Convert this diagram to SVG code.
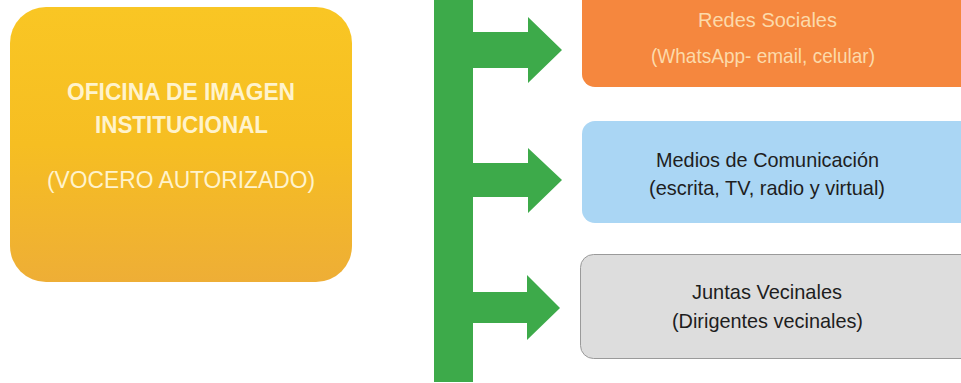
<svg xmlns="http://www.w3.org/2000/svg" width="961" height="383" viewBox="0 0 961 383">
<defs>
<linearGradient id="gy" x1="0" y1="0" x2="0" y2="1">
<stop offset="0" stop-color="#F9C624"/>
<stop offset="0.5" stop-color="#F6BE22"/>
<stop offset="1" stop-color="#EEAE36"/>
</linearGradient>
<style>
.t{font-family:"Liberation Sans",Arial,sans-serif;text-anchor:middle}
.r{font-size:21px}
.y{font-size:24px;fill:#FFF3CC}
.arrow{fill:#3DAA4A}
</style>
</defs>
<rect width="961" height="383" fill="#FFFFFF"/>
<g id="oficina">
<rect x="10" y="7" width="342" height="275" rx="36" ry="36" fill="url(#gy)"/>
<text class="t y" x="181" y="100" font-weight="bold" textLength="228" lengthAdjust="spacingAndGlyphs">OFICINA DE IMAGEN</text>
<text class="t y" x="181.5" y="133" font-weight="bold" textLength="173" lengthAdjust="spacingAndGlyphs">INSTITUCIONAL</text>
<text class="t y" x="181" y="188" textLength="268" lengthAdjust="spacingAndGlyphs">(VOCERO AUTORIZADO)</text>
</g>
<g id="connectors">
<rect class="arrow" x="434" y="0" width="39" height="382"/>
<polygon class="arrow" points="472,32 528,32 528,17 562,50 528,83 528,68 472,68"/>
<polygon class="arrow" points="472,163 528,163 528,148 562,180 528,213 528,197 472,197"/>
<polygon class="arrow" points="472,292 527,292 527,275 560,308 527,340 527,323 472,323"/>
</g>
<g id="redes">
<rect x="582" y="-20" width="395" height="107" rx="13" ry="13" fill="#F5873E"/>
<text class="t r" x="767.5" y="27" fill="#FCDAAA" textLength="139" lengthAdjust="spacingAndGlyphs">Redes Sociales</text>
<text class="t r" x="763" y="63" fill="#FCDAAA" textLength="224" lengthAdjust="spacingAndGlyphs">(WhatsApp- email, celular)</text>
</g>
<g id="medios">
<rect x="582" y="121" width="395" height="102" rx="13" ry="13" fill="#AAD6F4"/>
<text class="t r" x="767.5" y="167" fill="#1E1E1E" textLength="223" lengthAdjust="spacingAndGlyphs">Medios de Comunicación</text>
<text class="t r" x="767" y="195" fill="#1E1E1E" textLength="236" lengthAdjust="spacingAndGlyphs">(escrita, TV, radio y virtual)</text>
</g>
<g id="juntas">
<rect x="580.5" y="254.5" width="395" height="104" rx="13" ry="13" fill="#DDDDDD" stroke="#9A9A9A" stroke-width="1"/>
<text class="t r" x="767" y="299" fill="#1E1E1E" textLength="150" lengthAdjust="spacingAndGlyphs">Juntas Vecinales</text>
<text class="t r" x="767.5" y="328" fill="#1E1E1E" textLength="191" lengthAdjust="spacingAndGlyphs">(Dirigentes vecinales)</text>
</g>
</svg>
